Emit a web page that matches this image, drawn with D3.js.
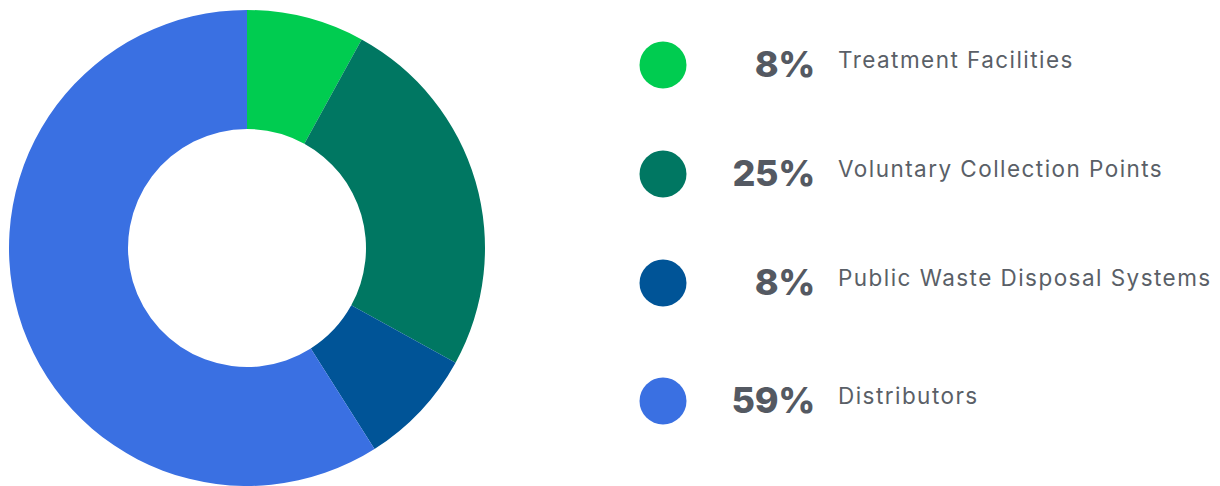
<!DOCTYPE html>
<html>
<head>
<meta charset="utf-8">
<script src="https://cdn.jsdelivr.net/npm/d3@7"></script>
<style>
    body { margin: 0; background: #fff; }
    svg { display: block; }
</style>
</head>
<body>
<div class="chart"></div>
<script>
// Data
const categories = [
    "Treatment Facilities",
    "Voluntary Collection Points",
    "Public Waste Disposal Systems",
    "Distributors",
];
const shares = [8, 25, 8, 59];
const percentLabels = ["8%", "25%", "8%", "59%"];
const sliceColors = ["#00cc50", "#007762", "#005497", "#3a70e2"];

// Layout
let width = 1220;
let height = 486;
let center = { x: 247, y: 248 };
let outerRadius = 238;
let innerRadius = 119;
let rowY = [65, 174, 283, 401];

const svg = d3
    .select(".chart")
    .append("svg")
    .attr("width", width)
    .attr("height", height);

const data = categories.map((c, i) => ({
    name: c,
    value: shares[i],
    label: percentLabels[i],
    color: sliceColors[i],
}));

const pie = d3.pie().value((d) => d.value).sort(null);
const arc = d3.arc().innerRadius(innerRadius).outerRadius(outerRadius);

svg.append("g")
    .attr("transform", `translate(${center.x},${center.y})`)
    .selectAll("path")
    .data(pie(data))
    .join("path")
    .attr("d", arc)
    .attr("fill", (d) => d.data.color);

// Legend
const legend = svg
    .append("g")
    .selectAll("g")
    .data(data)
    .join("g")
    .attr("transform", (d, i) => `translate(0, ${rowY[i]})`);

legend
    .append("circle")
    .attr("cx", 663)
    .attr("cy", 0)
    .attr("r", 23.5)
    .attr("fill", (d) => d.color);

legend
    .append("text")
    .attr("x", 815)
    .attr("y", 12)
    .attr("text-anchor", "end")
    .attr("font-family", "Inter, 'Open Sans', sans-serif")
    .attr("font-weight", "800")
    .attr("font-size", "36px")
    .attr("letter-spacing", "-0.3px")
    .attr("fill", "#545962")
    .text((d) => d.label);

legend
    .append("text")
    .attr("x", 838)
    .attr("y", 3)
    .attr("font-family", "Inter, 'Open Sans', sans-serif")
    .attr("font-weight", "400")
    .attr("font-size", "22.5px")
    .attr("letter-spacing", "1.45px")
    .attr("fill", "#5a5f67")
    .text((d) => d.name);
</script>
</body>
</html>
